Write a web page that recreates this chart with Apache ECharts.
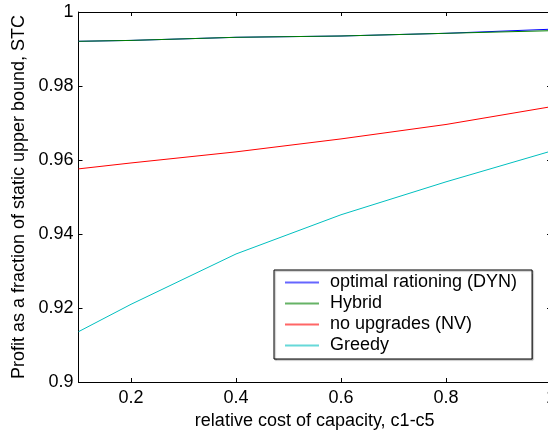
<!DOCTYPE html>
<html>
<head>
<meta charset="utf-8">
<script src="https://cdn.jsdelivr.net/npm/echarts@6/dist/echarts.min.js"></script>
<style>
  html, body { margin: 0; padding: 0; background: #fff; }
  #myChart { width: 548px; height: 430px; }
</style>
</head>
<body>
<div id="myChart"></div>
<script>
// relative cost of capacity (x)
var costs = [0.1, 0.2, 0.4, 0.6, 0.8, 1.0];
var optimalDyn = [0.99208, 0.99232, 0.99316, 0.99351, 0.99424, 0.99535];
var hybrid = [0.99208, 0.99232, 0.99316, 0.99351, 0.99424, 0.99495];
var noUpgrades = [0.9576, 0.9592, 0.9622, 0.9657, 0.9696, 0.9744];
var greedy = [0.9136, 0.9210, 0.9346, 0.9452, 0.9541, 0.9624];
var xTicks = [0.2, 0.4, 0.6, 0.8, 1.0];

var names = ['optimal rationing (DYN)', 'Hybrid', 'no upgrades (NV)', 'Greedy'];
var colors = ['#0000ff', '#008000', '#ff0000', '#00bfbf'];

function pairs(ys) {
  var out = [];
  for (var i = 0; i < costs.length; i++) {
    out.push([costs[i], ys[i]]);
  }
  return out;
}

var dom = document.getElementById('myChart');
var myChart = echarts.init(dom);
var font = 'Liberation Sans, Arial, sans-serif';

var seriesData = [];
var allY = [optimalDyn, hybrid, noUpgrades, greedy];
for (var s = 0; s < allY.length; s++) {
  seriesData.push({
    name: names[s],
    type: 'line',
    xAxisIndex: 0,
    yAxisIndex: 0,
    showSymbol: false,
    symbol: 'none',
    color: colors[s],
    lineStyle: { width: 1, color: colors[s] },
    data: pairs(allY[s])
  });
}

var option = {
  animation: false,
  backgroundColor: '#fff',
  textStyle: { fontFamily: font },
  grid: { left: 78.5, top: 12, right: -3, bottom: 48, containLabel: false, outerBoundsMode: 'none' },
  legend: {
    orient: 'vertical',
    left: 274,
    top: 270,
    padding: [2, 15, 3, 11],
    itemGap: 0,
    itemWidth: 34,
    itemHeight: 2,
    icon: 'rect',
    itemStyle: { opacity: 0.6 },
    borderColor: '#000',
    borderWidth: 1,
    backgroundColor: '#fff',
    shadowColor: 'rgba(0,0,0,0.35)',
    shadowOffsetX: 1,
    shadowOffsetY: 1,
    shadowBlur: 1,
    textStyle: { fontSize: 18, color: '#000', lineHeight: 21, padding: [0, 0, 0, 6], fontFamily: font },
    data: names
  },
  xAxis: [
    {
      type: 'value',
      min: 0.1,
      max: 1,
      name: 'relative cost of capacity, c1-c5',
      nameLocation: 'middle',
      nameGap: 25,
      nameTextStyle: { fontSize: 18, color: '#000', fontFamily: font },
      axisLine: { lineStyle: { color: '#000', width: 1 } },
      axisTick: { inside: true, length: 4, customValues: xTicks, lineStyle: { color: '#000' } },
      axisLabel: { customValues: xTicks, fontSize: 18, color: '#000', margin: 7, fontFamily: font },
      splitLine: { show: false }
    },
    {
      type: 'value',
      position: 'top',
      min: 0.1,
      max: 1,
      axisLine: { lineStyle: { color: '#000', width: 1 } },
      axisTick: { inside: true, length: 4, customValues: xTicks, lineStyle: { color: '#000' } },
      axisLabel: { show: false },
      splitLine: { show: false }
    }
  ],
  yAxis: [
    {
      type: 'value',
      min: 0.9,
      max: 1,
      interval: 0.02,
      name: 'Profit as a fraction of static upper bound, STC',
      nameLocation: 'middle',
      nameGap: 43,
      nameTextStyle: { fontSize: 18, color: '#000', fontFamily: font },
      axisLine: { show: true, lineStyle: { color: '#000', width: 1 } },
      axisTick: { show: true, inside: true, length: 4, lineStyle: { color: '#000' } },
      axisLabel: {
        fontSize: 18, color: '#000', margin: 5, fontFamily: font,
        formatter: function (v) { return String(Math.round(v * 100) / 100); }
      },
      splitLine: { show: false }
    },
    {
      type: 'value',
      position: 'right',
      min: 0.9,
      max: 1,
      interval: 0.02,
      axisLine: { show: true, lineStyle: { color: '#000', width: 1 } },
      axisTick: { show: true, inside: true, length: 4, lineStyle: { color: '#000' } },
      axisLabel: { show: false },
      splitLine: { show: false }
    }
  ],
  series: seriesData
};

myChart.setOption(option);
window.addEventListener('resize', myChart.resize);
</script>
</body>
</html>
